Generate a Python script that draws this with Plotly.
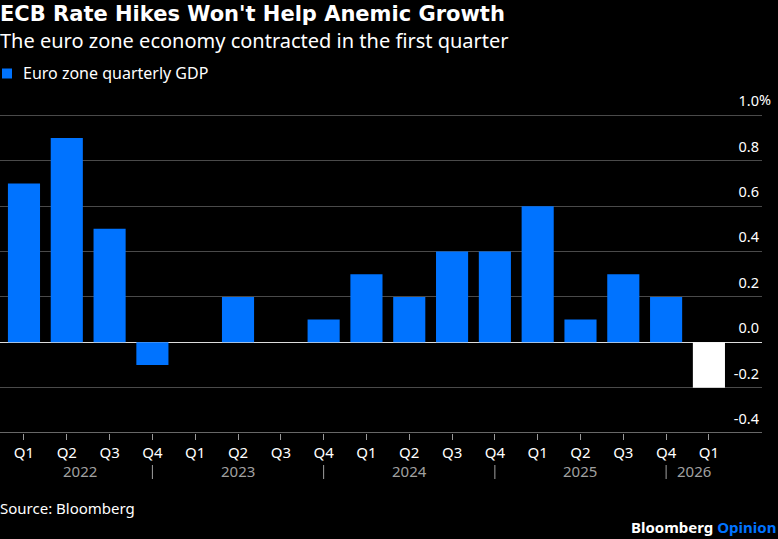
import plotly.graph_objects as go

quarters = ["Q1", "Q2", "Q3", "Q4", "Q1", "Q2", "Q3", "Q4", "Q1", "Q2", "Q3", "Q4",
            "Q1", "Q2", "Q3", "Q4", "Q1"]
period_ids = ["2022Q1", "2022Q2", "2022Q3", "2022Q4", "2023Q1", "2023Q2", "2023Q3", "2023Q4",
              "2024Q1", "2024Q2", "2024Q3", "2024Q4", "2025Q1", "2025Q2", "2025Q3", "2025Q4",
              "2026Q1"]
gdp = [0.7, 0.9, 0.5, -0.1, 0.0, 0.2, 0.0, 0.1, 0.3, 0.2, 0.4, 0.4, 0.6, 0.1, 0.3, 0.2, -0.2]
bar_colors = ["#0073ff"] * 16 + ["#ffffff"]

y_ticks = [-0.4, -0.2, 0.0, 0.2, 0.4, 0.6, 0.8, 1.0]
y_ticktext = ["-0.4", "-0.2", "0.0", "0.2", "0.4", "0.6", "0.8", "1.0"]

year_labels = ["2022", "2023", "2024", "2025", "2026"]
year_pos = [1.3, 5.0, 9.0, 13.0, 15.65]
sep_pos = [3, 7, 11, 15]

FONT = "Noto Sans"
x_idx = list(range(len(gdp)))

T, B = 70, 106
PLOT_BOTTOM = 539 - B
PLOT_H = 539 - T - B


def py(px):
    return (PLOT_BOTTOM - px) / PLOT_H


fig = go.Figure()
fig.add_trace(go.Bar(
    x=x_idx, y=gdp, marker=dict(color=bar_colors, line=dict(width=0)),
    width=0.75, name="Euro zone quarterly GDP", showlegend=False,
))

fig.update_layout(
    width=778, height=539,
    paper_bgcolor="#000000", plot_bgcolor="#000000",
    margin=dict(l=0, r=16, t=T, b=B),
    font=dict(family=FONT, color="#ffffff", size=14),
    showlegend=False,
)

fig.update_xaxes(
    range=[-0.56, 17.24], tickmode="array", tickvals=x_idx, ticktext=quarters,
    ticks="outside", ticklen=6, tickcolor="#999999", tickwidth=1,
    showgrid=False, zeroline=False, showline=False,
    tickfont=dict(size=15, color="#ffffff"), fixedrange=True,
)
fig.update_yaxes(
    range=[-0.4, 1.2], tickmode="array", tickvals=y_ticks, ticktext=y_ticktext,
    side="right", ticklabelposition="inside top", ticks="", ticklabelshift=-4,
    showgrid=True, gridcolor="#4a4a4a", gridwidth=1.3,
    zeroline=True, zerolinecolor="#dddddd", zerolinewidth=1.3,
    showline=False, tickfont=dict(size=14.5, color="#ffffff"),
)

# bottom axis line at -0.4
fig.add_shape(type="line", xref="paper", yref="y", x0=0, x1=1, y0=-0.4, y1=-0.4,
              line=dict(color="#8a8a8a", width=1.3))

# year separators
for sp in sep_pos:
    fig.add_shape(type="line", xref="x", yref="paper", x0=sp, x1=sp,
                  y0=py(479), y1=py(465), line=dict(color="#a0a0a0", width=1))

for yl, xp in zip(year_labels, year_pos):
    fig.add_annotation(text=yl, x=xp, xref="x", y=py(471), yref="paper", yanchor="middle",
                       showarrow=False, font=dict(size=15, color="#a0a0a0"))

# legend (manual)
fig.add_shape(type="rect", xref="paper", yref="paper",
              x0=2 / 762, x1=12 / 762, y0=py(78.5), y1=py(68.5),
              fillcolor="#0073ff", line=dict(width=0))
fig.add_annotation(text="Euro zone quarterly GDP", xref="paper", yref="paper",
                   x=21 / 762, y=py(73), xanchor="left", yanchor="middle",
                   showarrow=False, font=dict(size=16, color="#ffffff"))

fig.add_annotation(text="<b>ECB Rate Hikes Won't Help Anemic Growth</b>", xref="paper", yref="paper",
                   x=0, y=py(14), xanchor="left", yanchor="middle", xshift=-2,
                   showarrow=False, font=dict(family="DejaVu Sans", size=21, color="#ffffff"))
fig.add_annotation(text="The euro zone economy contracted in the first quarter", xref="paper",
                   yref="paper", x=0, y=py(41), xanchor="left", yanchor="middle", xshift=-2,
                   showarrow=False, font=dict(size=20, color="#ffffff"))
fig.add_annotation(text="%", xref="paper", yref="y", x=1, y=1.0, xanchor="left",
                   yanchor="bottom", yshift=4, xshift=-5, showarrow=False,
                   font=dict(size=14.5, color="#ffffff"))
fig.add_annotation(text="Source: Bloomberg", xref="paper", yref="paper", x=0, y=py(508),
                   xanchor="left", yanchor="middle", xshift=-2, showarrow=False,
                   font=dict(size=15, color="#ffffff"))
fig.add_annotation(text="<b>Bloomberg</b> <b><span style='color:#0073ff'>Opinion</span></b>",
                   xref="paper", yref="paper", x=1, y=py(527), xanchor="right", yanchor="middle",
                   xshift=16, showarrow=False,
                   font=dict(size=15, color="#ffffff"))

fig.write_html("out.html")
